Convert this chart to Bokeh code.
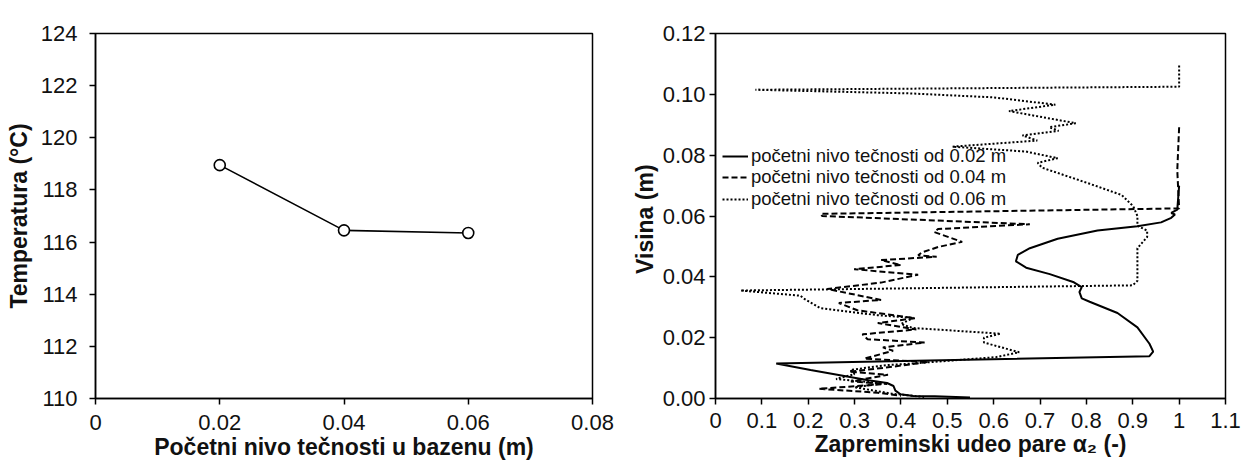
from bokeh.plotting import figure
from bokeh.layouts import row
from bokeh.models import Range1d, FixedTicker, Legend, LegendItem
from bokeh.embed import file_html
from bokeh.resources import INLINE

# ---------------- data ----------------
# Left chart: initial liquid level in pool vs temperature
level_m = [0.02, 0.04, 0.06]
temperature_c = [118.95, 116.45, 116.35]
left_x_ticks = [0, 0.02, 0.04, 0.06, 0.08]
left_x_labels = ["0", "0.02", "0.04", "0.06", "0.08"]
left_y_ticks = [110, 112, 114, 116, 118, 120, 122, 124]

# Right chart: vapour volume fraction vs height
alpha_002 = [0.549, 0.473, 0.427, 0.399, 0.388, 0.384, 0.370, 0.330, 0.284, 0.205,
             0.131, 0.936, 0.944, 0.936, 0.910, 0.867, 0.807, 0.790, 0.785, 0.790,
             0.773, 0.721, 0.670, 0.648, 0.652, 0.678, 0.738, 0.824, 0.910, 0.961,
             0.983, 0.991, 0.983, 0.996, 1.000]
height_002 = [0.0003, 0.0007, 0.0008, 0.0014, 0.0026, 0.0041, 0.0051, 0.0060, 0.0072, 0.0094,
              0.0115, 0.0139, 0.0154, 0.0180, 0.0234, 0.0281, 0.0318, 0.0329, 0.0350, 0.0366,
              0.0382, 0.0409, 0.0430, 0.0451, 0.0472, 0.0494, 0.0525, 0.0552, 0.0566, 0.0579,
              0.0594, 0.0605, 0.0610, 0.0621, 0.0700]

alpha_004 = [1.000, 0.996, 1.000, 0.227, 0.230, 0.678, 0.480, 0.472, 0.532, 0.480,
             0.445, 0.437, 0.477, 0.357, 0.400, 0.299, 0.437, 0.357, 0.241, 0.357,
             0.266, 0.306, 0.430, 0.350, 0.433, 0.317, 0.328, 0.451, 0.361, 0.383,
             0.321, 0.459, 0.364, 0.288, 0.372, 0.292, 0.370, 0.223, 0.350, 0.400]
height_004 = [0.0892, 0.0750, 0.0625, 0.0607, 0.0600, 0.0573, 0.0557, 0.0547, 0.0515, 0.0498,
              0.0480, 0.0471, 0.0466, 0.0455, 0.0439, 0.0425, 0.0407, 0.0381, 0.0360, 0.0324,
              0.0314, 0.0290, 0.0264, 0.0248, 0.0227, 0.0211, 0.0195, 0.0184, 0.0168, 0.0157,
              0.0131, 0.0120, 0.0101, 0.0088, 0.0078, 0.0056, 0.0048, 0.0032, 0.0019, 0.0009]

alpha_006 = [1.000, 1.000, 0.086, 0.420, 0.600, 0.733, 0.633, 0.777, 0.720, 0.740,
             0.662, 0.694, 0.511, 0.669, 0.738, 0.695, 0.704, 0.807, 0.876, 0.901,
             0.910, 0.910, 0.931, 0.931, 0.910, 0.910, 0.910, 0.900, 0.054, 0.183,
             0.190, 0.226, 0.349, 0.427, 0.400, 0.425, 0.615, 0.579, 0.579, 0.655,
             0.605, 0.425, 0.370, 0.291, 0.300, 0.260, 0.360, 0.300, 0.380, 0.450]
height_006 = [0.1095, 0.1025, 0.1015, 0.1003, 0.0990, 0.0966, 0.0945, 0.0905, 0.0892, 0.0880,
              0.0865, 0.0848, 0.0828, 0.0812, 0.0790, 0.0775, 0.0759, 0.0706, 0.0669, 0.0632,
              0.0600, 0.0568, 0.0552, 0.0531, 0.0494, 0.0440, 0.0387, 0.0372, 0.0355, 0.0338,
              0.0329, 0.0297, 0.0274, 0.0265, 0.0245, 0.0232, 0.0213, 0.0200, 0.0184, 0.0152,
              0.0136, 0.0115, 0.0110, 0.0094, 0.0080, 0.0064, 0.0050, 0.0037, 0.0016, 0.0005]

series_labels = ["početni nivo tečnosti od 0.02 m",
                 "početni nivo tečnosti od 0.04 m",
                 "početni nivo tečnosti od 0.06 m"]
right_x_ticks = [0, 0.1, 0.2, 0.3, 0.4, 0.5, 0.6, 0.7, 0.8, 0.9, 1.0, 1.1]
right_x_labels = ["0", "0.1", "0.2", "0.3", "0.4", "0.5", "0.6", "0.7", "0.8", "0.9", "1", "1.1"]
right_y_ticks = [0, 0.02, 0.04, 0.06, 0.08, 0.10, 0.12]
right_y_labels = ["0.00", "0.02", "0.04", "0.06", "0.08", "0.10", "0.12"]

FONT = "Liberation Sans"


def style(p, xlabel, ylabel, x_std, y_std, xlab_std, ylab_std):
    p.outline_line_color = "black"
    p.outline_line_width = 1.5
    p.xgrid.visible = False
    p.ygrid.visible = False
    for ax in (p.xaxis[0], p.yaxis[0]):
        ax.axis_line_color = "black"
        ax.axis_line_width = 1.5
        ax.major_tick_line_color = "black"
        ax.major_tick_line_width = 1.5
        ax.major_tick_out = 6
        ax.major_tick_in = 0
        ax.minor_tick_line_color = None
        ax.major_label_text_font = FONT
        ax.major_label_text_font_size = "22px"
        ax.major_label_text_color = "#111111"
        ax.axis_label_text_font = FONT
        ax.axis_label_text_font_size = "23px"
        ax.axis_label_text_font_style = "bold"
        ax.axis_label_text_color = "#111111"
    p.xaxis[0].axis_label = xlabel
    p.yaxis[0].axis_label = ylabel
    p.xaxis[0].major_label_standoff = x_std
    p.yaxis[0].major_label_standoff = y_std
    p.xaxis[0].axis_label_standoff = xlab_std
    p.yaxis[0].axis_label_standoff = ylab_std


# ---------------- left figure ----------------
p1 = figure(width=622, height=466,
            min_border_left=95, min_border_right=30, min_border_top=33, min_border_bottom=68,
            x_range=Range1d(0, 0.08), y_range=Range1d(110, 124),
            output_backend="svg", toolbar_location=None)
style(p1, "Početni nivo tečnosti u bazenu (m)", "Temperatura (°C)", 10, 12, 1, 6)
p1.xaxis[0].ticker = FixedTicker(ticks=left_x_ticks)
p1.xaxis[0].major_label_overrides = {t: l for t, l in zip(left_x_ticks, left_x_labels)}
p1.yaxis[0].ticker = FixedTicker(ticks=left_y_ticks)
p1.line(level_m, temperature_c, line_color="black", line_width=1.6)
p1.scatter(level_m, temperature_c, marker="circle", size=11, fill_color="white",
           line_color="black", line_width=1.6)

# ---------------- right figure ----------------
p2 = figure(width=619, height=466,
            min_border_left=93, min_border_right=16, min_border_top=25, min_border_bottom=65,
            x_range=Range1d(0, 1.1), y_range=Range1d(0, 0.12),
            output_backend="svg", toolbar_location=None)
style(p2, "Zapreminski udeo pare α₂ (-)", "Visina  (m)", 8, 4, 0, 2)
p2.xaxis[0].ticker = FixedTicker(ticks=right_x_ticks)
p2.xaxis[0].major_label_overrides = {t: l for t, l in zip(right_x_ticks, right_x_labels)}
p2.yaxis[0].ticker = FixedTicker(ticks=right_y_ticks)
p2.yaxis[0].major_label_overrides = {t: l for t, l in zip(right_y_ticks, right_y_labels)}

r1 = p2.line(alpha_002, height_002, line_color="black", line_width=2)
r2 = p2.line(alpha_004, height_004, line_color="black", line_width=2, line_dash="6 3")
r3 = p2.line(alpha_006, height_006, line_color="black", line_width=2, line_dash="2 2")

# one legend box per entry so the rows sit as tightly as in the reference
for label, rend, y_off in zip(series_labels, [r1, r2, r3], [230.5, 209.0, 187.5]):
    lg = Legend(items=[LegendItem(label=label, renderers=[rend])], location=(7, y_off))
    lg.background_fill_alpha = 0
    lg.border_line_alpha = 0
    lg.label_text_font = FONT
    lg.label_text_font_size = "18.5px"
    lg.label_text_color = "#111111"
    lg.glyph_width = 26
    lg.glyph_height = 24
    lg.label_height = 24
    lg.label_standoff = 3
    lg.spacing = 0
    lg.padding = 0
    lg.margin = 0
    p2.add_layout(lg)

layout = row(p1, p2)
open("out.html", "w").write(file_html(layout, INLINE))
